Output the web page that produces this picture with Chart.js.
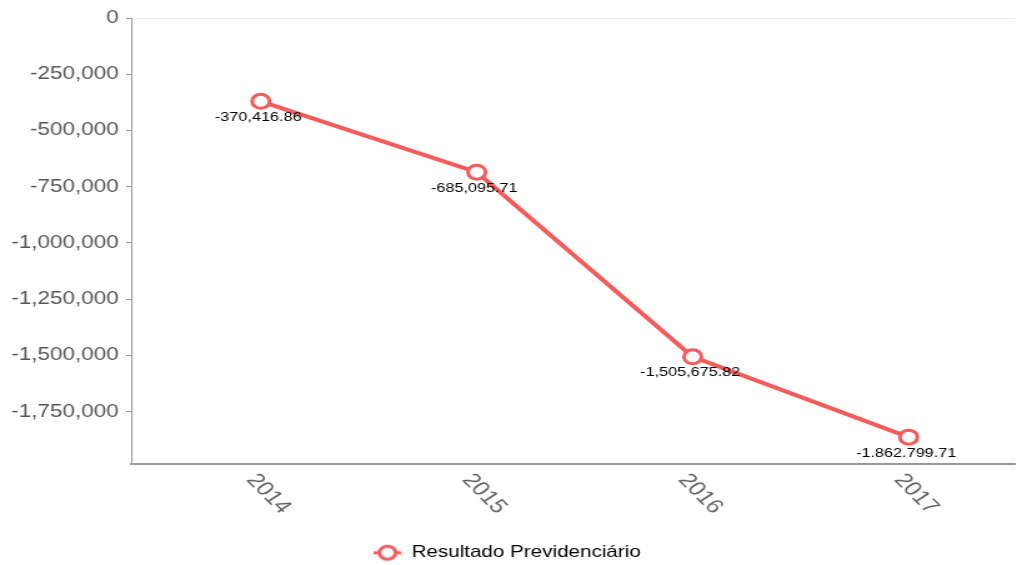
<!DOCTYPE html>
<html>
<head>
<meta charset="utf-8">
<script src="https://cdn.jsdelivr.net/npm/chart.js@4/dist/chart.umd.min.js"></script>
<style>
  html, body { margin: 0; padding: 0; background: #fff; }
  #wrap { width: 1027px; height: 565px; }
</style>
</head>
<body>
<div id="wrap">
  <!-- drawn at 822 wide and stretched to 1027, like the wide-looking reference -->
  <canvas id="chResultado" width="822" height="565" style="width:1027px;height:565px"></canvas>
</div>
<script>
// data
var years = ['2014', '2015', '2016', '2017'];
var resultado = [-370416.86, -685095.71, -1505675.82, -1862799.71];
var pointLabels = ['-370,416.86', '-685,095.71', '-1,505,675.82', '-1.862.799.71'];
var yTicks = [0, -250000, -500000, -750000, -1000000, -1250000, -1500000, -1750000];
var seriesName = 'Resultado Previdenciário';

var red = '#f45b5b';

// legend symbol: line with a hollow circle
var legendIcon = document.createElement('canvas');
legendIcon.width = 22;
legendIcon.height = 18;
(function () {
  var c = legendIcon.getContext('2d');
  c.strokeStyle = red;
  c.lineWidth = 3;
  c.beginPath(); c.moveTo(0, 9); c.lineTo(22, 9); c.stroke();
  c.fillStyle = '#fff';
  c.beginPath(); c.arc(11, 9, 6.5, 0, Math.PI * 2); c.fill(); c.stroke();
})();

// value labels under each point
var valueLabels = {
  id: 'valueLabels',
  afterDatasetsDraw: function (chart) {
    var ctx = chart.ctx;
    var meta = chart.getDatasetMeta(0);
    ctx.save();
    ctx.font = '13px "Liberation Sans", Arial, sans-serif';
    ctx.fillStyle = '#000';
    ctx.textAlign = 'center';
    ctx.textBaseline = 'middle';
    meta.data.forEach(function (pt, i) {
      ctx.fillText(pointLabels[i], pt.x - 2, pt.y + 16);
    });
    ctx.restore();
  }
};

// rotated year labels (slanting down to the right)
var yearLabels = {
  id: 'yearLabels',
  afterDraw: function (chart) {
    var ctx = chart.ctx;
    var xs = chart.scales.x;
    ctx.save();
    ctx.font = '20px "Liberation Sans", Arial, sans-serif';
    ctx.fillStyle = '#666';
    ctx.textAlign = 'left';
    ctx.textBaseline = 'middle';
    years.forEach(function (y) {
      var px = xs.getPixelForValue(Number(y));
      ctx.save();
      ctx.translate(px - 8, xs.top + 13);
      ctx.rotate(51 * Math.PI / 180);
      ctx.fillText(y, 0, 0);
      ctx.restore();
    });
    ctx.restore();
  }
};

new Chart(document.getElementById('chResultado'), {
  type: 'line',
  data: {
    datasets: [{
      label: seriesName,
      data: years.map(function (y, i) { return { x: Number(y), y: resultado[i] }; }),
      borderColor: red,
      borderWidth: 4,
      pointRadius: 7,
      pointBorderWidth: 3,
      pointBorderColor: red,
      pointBackgroundColor: '#fff',
      pointStyle: 'circle',
      tension: 0,
      fill: false
    }]
  },
  options: {
    responsive: false,
    animation: false,
    devicePixelRatio: 1,
    layout: { padding: { top: 18, right: 10, left: 0, bottom: -6 } },
    plugins: {
      legend: {
        position: 'bottom',
        labels: {
          usePointStyle: true,
          pointStyle: legendIcon,
          pointStyleWidth: 22,
          padding: 5,
          color: '#555',
          font: { family: '"Liberation Sans", Arial, sans-serif', size: 16.5 },
          generateLabels: function (chart) {
            return [{
              text: seriesName, pointStyle: legendIcon, fillStyle: red,
              strokeStyle: red, lineWidth: 0, datasetIndex: 0, hidden: false
            }];
          }
        }
      },
      tooltip: { enabled: false }
    },
    scales: {
      x: {
        type: 'linear',
        min: 2013.4,
        max: 2017.49,
        grid: { display: false },
        border: { display: true, color: '#999', width: 2 },
        ticks: { display: false },
        afterBuildTicks: function (scale) {
          scale.ticks = years.map(function (y) { return { value: Number(y) }; });
        },
        afterFit: function (scale) { scale.height = 76; }
      },
      y: {
        min: -1980000,
        max: 0,
        border: { display: true, color: '#999', width: 1 },
        grid: {
          drawOnChartArea: true,
          drawTicks: true,
          tickLength: 4,
          tickColor: '#999',
          color: function (c) { return c.tick && c.tick.value === 0 ? '#ebebeb' : 'rgba(0,0,0,0)'; }
        },
        afterBuildTicks: function (scale) {
          scale.ticks = yTicks.map(function (v) { return { value: v }; });
        },
        afterFit: function (scale) { scale.width = 105; },
        ticks: {
          padding: 6,
          color: '#555',
          font: { family: '"Liberation Sans", Arial, sans-serif', size: 18 },
          callback: function (v) { return v.toLocaleString('en-US'); }
        }
      }
    }
  },
  plugins: [valueLabels, yearLabels]
});
</script>
</body>
</html>
